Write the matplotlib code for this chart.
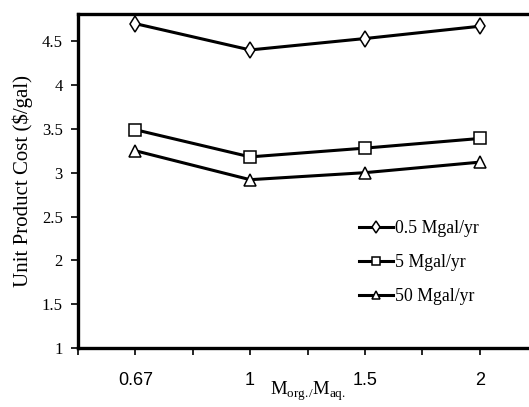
import matplotlib
matplotlib.use('Agg')
import matplotlib.pyplot as plt

ratios = ['0.67', '1', '1.5', '2']
cost_05 = [4.70, 4.40, 4.53, 4.67]
cost_5 = [3.49, 3.18, 3.28, 3.39]
cost_50 = [3.25, 2.92, 3.00, 3.12]
labels = ['0.5 Mgal/yr', '5 Mgal/yr', '50 Mgal/yr']
yticks = [1, 1.5, 2, 2.5, 3, 3.5, 4, 4.5]

serif = 'Liberation Serif'
sans = 'Liberation Sans'
plt.rcParams['mathtext.fontset'] = 'custom'
plt.rcParams['mathtext.rm'] = serif

fig = plt.figure(figsize=(5.29, 4.07), dpi=100)
ax = fig.add_axes([78/529, 59/407, 459/529, 334/407])

x = list(range(len(ratios)))
style = dict(color='black', lw=2.2, markersize=8, markerfacecolor='white',
             markeredgecolor='black', markeredgewidth=1.1)
ax.plot(x, cost_05, marker='d', label=labels[0], **dict(style, markersize=8.5))
ax.plot(x, cost_5, marker='s', label=labels[1], **style)
ax.plot(x, cost_50, marker='^', label=labels[2], **style)

ax.set_xlim(-0.5, 3.5)
ax.set_ylim(1, 4.81)
# tick marks every half category, labels only on the categories
half = [i * 0.5 - 0.5 for i in range(9)]
ax.set_xticks(half)
ax.set_xticklabels(['' if i % 2 == 0 else ratios[i // 2] for i in range(9)],
                   fontfamily=sans, fontsize=13)
ax.tick_params(axis='x', length=5, width=1.2, direction='out', pad=12)
ax.set_yticks(yticks)
ax.set_yticklabels([f'{v:g}' for v in yticks], fontfamily=serif, fontsize=12)
ax.tick_params(axis='y', length=5, width=1.2, direction='out', pad=6)

for side in ['left', 'bottom', 'top']:
    ax.spines[side].set_linewidth(2.4)
ax.spines['right'].set_visible(False)

ax.set_ylabel('Unit Product Cost ($/gal)', fontfamily=serif, fontsize=15)
ax.yaxis.set_label_coords(-0.097, 0.5)
ax.set_xlabel(r'M$_{\rm org.\!/}$M$_{\rm aq.}$', fontfamily=serif, fontsize=13.5)
ax.xaxis.set_label_coords(0.5, -0.128)
ax.xaxis.label.set_va('center')

leg = ax.legend(loc='upper left', bbox_to_anchor=(0.578, 0.43), frameon=False,
                prop={'family': serif, 'size': 12.8}, handlelength=1.9,
                handletextpad=0.1, labelspacing=0.95, markerscale=0.75)

fig.savefig('out.png', dpi=100)
